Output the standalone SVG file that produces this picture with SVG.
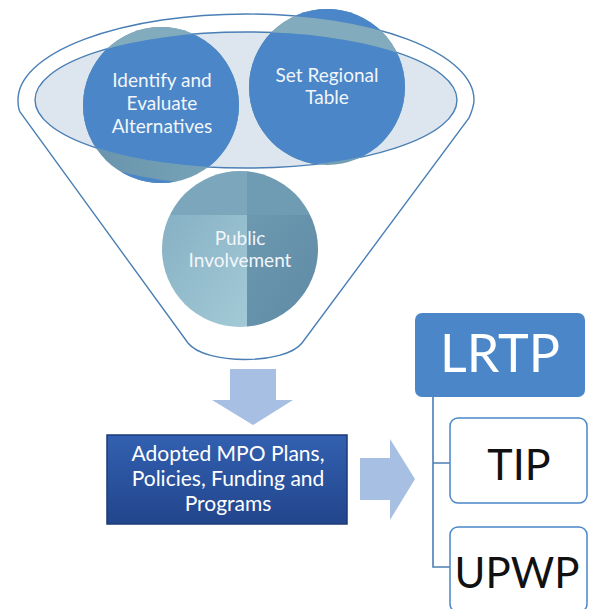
<svg xmlns="http://www.w3.org/2000/svg" width="591" height="609" viewBox="0 0 591 609">
<defs>
<style>
.fun{fill:none;stroke:#4a7fb5;stroke-width:1.4}
.ctxt{font-family:Lato,"Liberation Sans",sans-serif;font-size:19px;fill:#f2f6fa;text-anchor:middle}
.btxt{font-family:Lato,"Liberation Sans",sans-serif;font-size:21px;fill:#ffffff;text-anchor:middle}
.rtxt{font-family:Lato,"Liberation Sans",sans-serif;fill:#111111;text-anchor:middle}
.conn{fill:none;stroke:#4a7fb5;stroke-width:1.6}
.arrow{fill:#a7bfe2}
.teal{fill:url(#tealg)}
.rim{fill:#82abbe}
.blue{fill:#4a86c8}
.box{fill:#ffffff;stroke:#4a86c8;stroke-width:1.5}
</style>
<clipPath id="inner"><ellipse cx="246" cy="100" rx="211" ry="68"/></clipPath>
<clipPath id="outside"><path clip-rule="evenodd" d="M-10,-10H600V400H-10Z M18,100 A228,86 0 0 1 474,100 A228,86 0 0 1 18,100Z"/></clipPath>
<clipPath id="rimclip"><path clip-rule="evenodd" d="M18,100 A228,86 0 0 1 474,100Z M35,100 A211,68 0 0 1 457,100 A211,68 0 0 1 35,100Z"/></clipPath>
<linearGradient id="tealg" x1="0" y1="0" x2="1" y2="0">
<stop offset="0" stop-color="#6893ab"/>
<stop offset="1" stop-color="#7aa6ba"/>
</linearGradient>
<linearGradient id="boxg" x1="0" y1="0" x2="0" y2="1">
<stop offset="0" stop-color="#3260b0"/>
<stop offset="1" stop-color="#22458c"/>
</linearGradient>
<linearGradient id="piBL" x1="0" y1="0" x2="1" y2="1">
<stop offset="0" stop-color="#86b0c4"/>
<stop offset="1" stop-color="#a3cad6"/>
</linearGradient>
<linearGradient id="piBR" x1="0" y1="0" x2="1" y2="1">
<stop offset="0" stop-color="#6c98b0"/>
<stop offset="1" stop-color="#5f8aa4"/>
</linearGradient>
<clipPath id="piclip"><circle cx="240" cy="249" r="78"/></clipPath>
</defs>

<g id="funnel">
<path fill="#ffffff" class="fun" d="M18,100 A228,86 0 0 1 474,100 C474,106 472,111 469,118 L302,343 C285,365 205,365 188,343 L20,112 C18,108 18,104 18,100Z"/>
<ellipse cx="246" cy="100" rx="211" ry="68" fill="#dde5ee" stroke="#4a7fb5" stroke-width="1.4"/>
</g>

<g id="identify">
<circle class="teal" cx="161" cy="105" r="78"/>
<circle class="rim" cx="161" cy="105" r="78" clip-path="url(#rimclip)"/>
<circle class="blue" cx="161" cy="105" r="78" clip-path="url(#inner)"/>
<circle class="blue" cx="161" cy="105" r="78" clip-path="url(#outside)"/>
<text class="ctxt" x="162" y="87">Identify and</text>
<text class="ctxt" x="162" y="110">Evaluate</text>
<text class="ctxt" x="162" y="133">Alternatives</text>
</g>

<g id="regional">
<circle class="teal" cx="327" cy="87" r="78"/>
<circle class="rim" cx="327" cy="87" r="78" clip-path="url(#rimclip)"/>
<circle class="blue" cx="327" cy="87" r="78" clip-path="url(#inner)"/>
<circle class="blue" cx="327" cy="87" r="78" clip-path="url(#outside)"/>
<text class="ctxt" x="327" y="82">Set Regional</text>
<text class="ctxt" x="327" y="104">Table</text>
</g>

<g id="public">
<g clip-path="url(#piclip)">
<rect x="160" y="170" width="87" height="45" fill="#7ba6bc"/>
<rect x="247" y="170" width="75" height="45" fill="#6f9bb3"/>
<rect x="160" y="215" width="87" height="115" fill="url(#piBL)"/>
<rect x="247" y="215" width="75" height="115" fill="url(#piBR)"/>
</g>
<text class="ctxt" x="240" y="245">Public</text>
<text class="ctxt" x="240" y="267">Involvement</text>
</g>

<g id="arrow-down">
<path class="arrow" d="M230,369H276V400H293L253,425L212,400H230Z"/>
</g>

<g id="adopted">
<rect x="107" y="435" width="240" height="89" fill="url(#boxg)" stroke="#1b3a78" stroke-width="1.5"/>
<text class="btxt" x="228" y="461">Adopted MPO Plans,</text>
<text class="btxt" x="228" y="486">Policies, Funding and</text>
<text class="btxt" x="228" y="511">Programs</text>
</g>

<g id="arrow-right">
<path class="arrow" d="M360,458H390V439L415,479L390,520V500H360Z"/>
</g>

<g id="connectors">
<path class="conn" d="M433,397V567H450 M433,463H450"/>
</g>

<g id="lrtp">
<rect x="415" y="313" width="170" height="84" rx="7" fill="#4a86c8"/>
<text x="500" y="372" font-family="Lato,'Liberation Sans',sans-serif" font-size="52" fill="#ffffff" text-anchor="middle">LRTP</text>
</g>

<g id="tip">
<rect class="box" x="450" y="418" width="137" height="85" rx="8"/>
<text class="rtxt" x="519" y="480" font-size="43">TIP</text>
</g>

<g id="upwp">
<rect class="box" x="450" y="527" width="137" height="85" rx="8"/>
<text class="rtxt" x="517" y="588" font-size="42">UPWP</text>
</g>
</svg>
